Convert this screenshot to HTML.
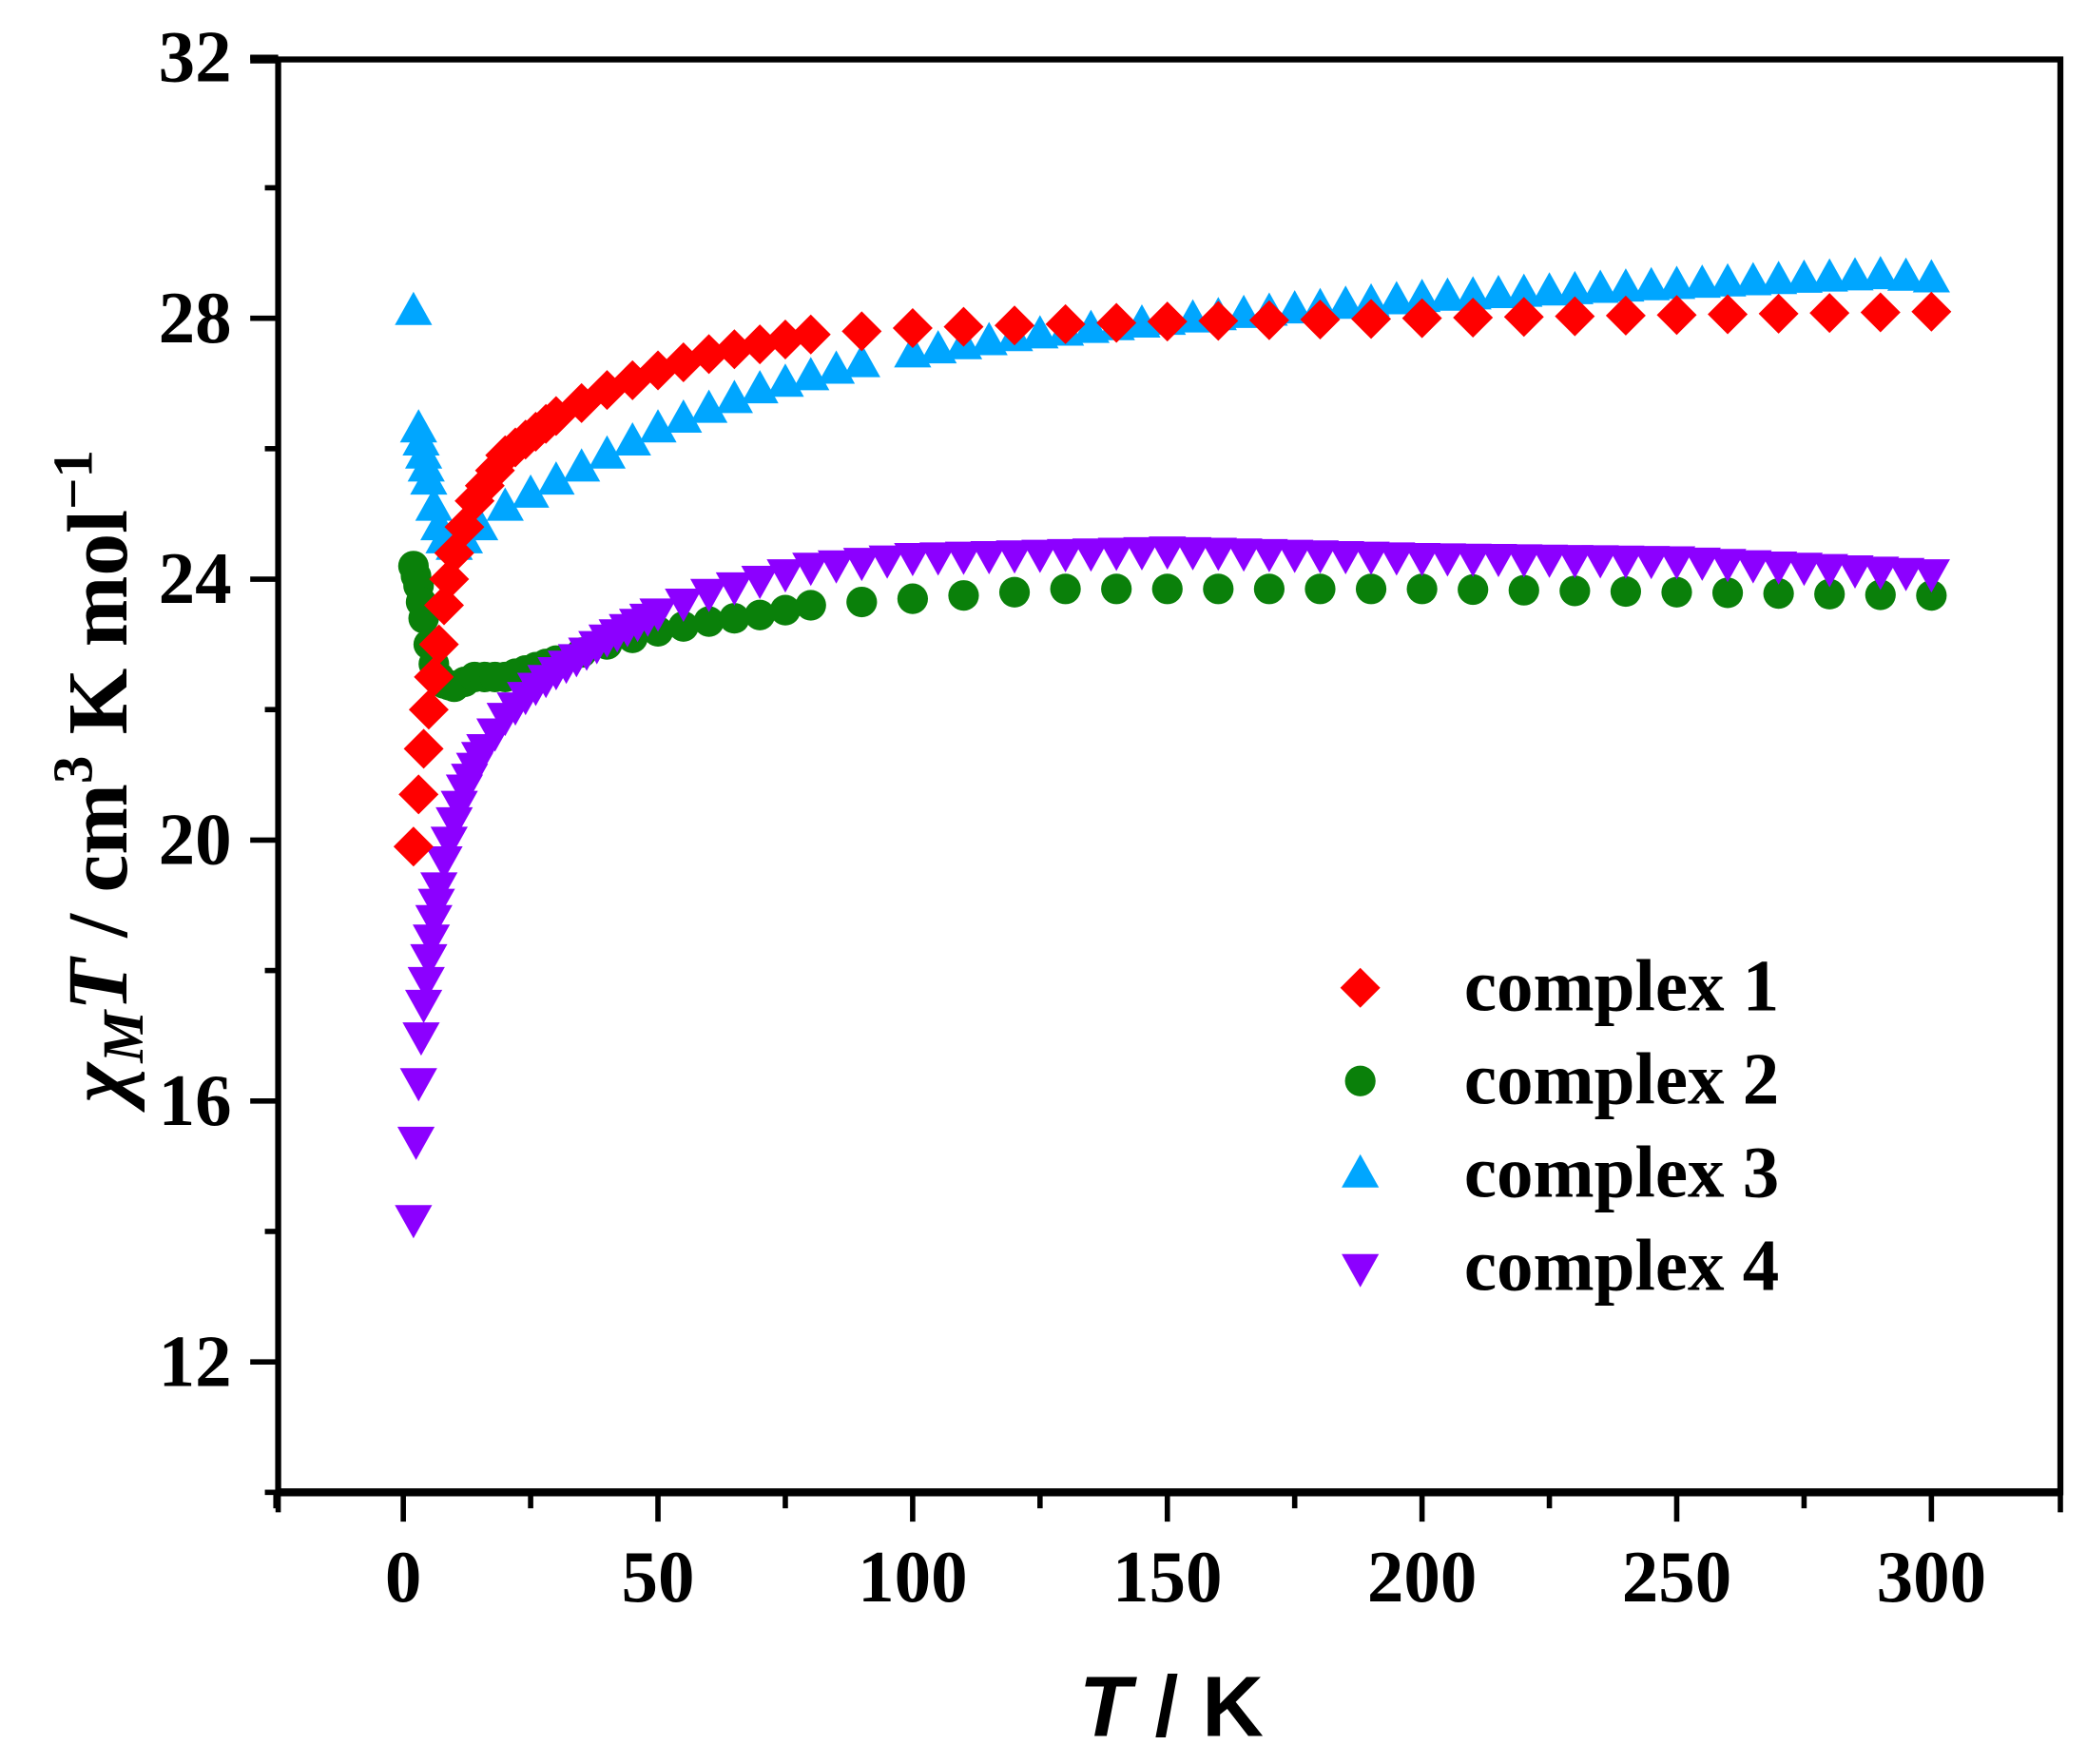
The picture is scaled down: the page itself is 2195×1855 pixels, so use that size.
<!DOCTYPE html>
<html><head><meta charset="utf-8"><style>html,body{margin:0;padding:0;background:#fff}svg{display:block}</style></head>
<body>
<svg id="s" xmlns="http://www.w3.org/2000/svg" width="2195" height="1855" viewBox="0 0 1568 1325">
<rect width="1568" height="1325" fill="#fff"/>
<g id="data"></g>
<g stroke="#000" fill="none">
<rect x="209" y="44.6" width="1339" height="1076.4" stroke-width="4.5"/>
<line x1="188" y1="44.6" x2="209" y2="44.6" stroke-width="6"/>
<line x1="209" y1="1121" x2="1548" y2="1121" stroke-width="6"/>
</g>
<g id="ticks" stroke="#000" stroke-width="4"></g>
<g font-family="Liberation Serif, serif" font-weight="bold" font-size="55" fill="#000" id="lbl"></g>
<g font-family="Liberation Serif, serif" font-weight="bold" font-size="55" fill="#000">
<text x="1100" y="759">complex 1</text>
<text x="1100" y="829">complex 2</text>
<text x="1100" y="899">complex 3</text>
<text x="1100" y="969">complex 4</text>
</g>
<g id="leg"></g>
<text transform="translate(95,583) rotate(-90)" text-anchor="middle" font-family="Liberation Serif, serif" font-weight="bold" font-size="64"><tspan font-style="italic">χ</tspan><tspan font-style="italic" font-size="44" dy="12">M</tspan><tspan font-style="italic" dy="-12">T</tspan> / cm<tspan font-size="42" dy="-26">3</tspan><tspan dy="26"> K mol</tspan><tspan font-size="42" dy="-26">−1</tspan></text>
<text x="880" y="1304" text-anchor="middle" font-family="Liberation Sans, sans-serif" font-weight="bold" font-style="italic" font-size="64">T <tspan font-style="normal">/ K</tspan></text>
</svg>
<script>
var NS="http://www.w3.org/2000/svg";
function X(t){return 303+t*3.827;}
function Y(v){return 1121-(v-10)*49;}
function el(p,n,a){var e=document.createElementNS(NS,n);for(var k in a)e.setAttribute(k,a[k]);p.appendChild(e);return e;}
var tk=document.getElementById('ticks'),lb=document.getElementById('lbl');
for(var v=10;v<=32;v+=2){var maj=(v%4==0);el(tk,'line',{x1:maj?188:199,y1:Y(v),x2:209,y2:Y(v)});
 if(maj){var t=el(lb,'text',{x:174,y:Y(v)+18,'text-anchor':'end'});t.textContent=v;}}
for(var t=-25;t<=320;t+=25){var maj=(t%50==0)&&t>=0;el(tk,'line',{x1:X(t),y1:1121,x2:X(t),y2:maj?1143:1133});
 if(maj){var q=el(lb,'text',{x:X(t),y:1203,'text-anchor':'middle'});q.textContent=t;}}
el(tk,'line',{x1:209,y1:1121,x2:209,y2:1136});el(tk,'line',{x1:1548,y1:1121,x2:1548,y2:1136});
function interp(d,t){for(var i=0;i<d.length-1;i++){if(t<=d[i+1][0]){var a=d[i],b=d[i+1];return a[1]+(b[1]-a[1])*(t-a[0])/(b[0]-a[0]);}}return d[d.length-1][1];}
var c1=[[2,19.9],[3,20.7],[4,21.4],[5,22.0],[6,22.5],[7,23.0],[8,23.6],[9,24.0],[10,24.4],[14,25.2],[20,25.9],[30,26.5],[40,26.9],[50,27.2],[60,27.45],[70,27.6],[80,27.75],[100,27.85],[150,27.95],[300,28.1]];
var c2=[[2,24.2],[3,23.9],[4,23.4],[5,23.0],[6,22.7],[7,22.5],[8,22.4],[10,22.35],[14,22.5],[20,22.5],[30,22.75],[40,23.0],[50,23.2],[60,23.35],[70,23.45],[80,23.6],[90,23.65],[100,23.7],[130,23.85],[200,23.85],[300,23.75]];
var c3=[[2,28.1],[3,26.3],[4,25.9],[5,25.5],[6,25.1],[7,24.8],[8,24.6],[10,24.5],[12,24.6],[15,24.8],[20,25.1],[25,25.3],[30,25.5],[40,25.9],[50,26.3],[60,26.6],[70,26.9],[80,27.1],[90,27.3],[100,27.45],[120,27.7],[150,27.95],[200,28.3],[250,28.5],[290,28.65],[300,28.6]];
var c4=[[2,14.2],[2.5,15.4],[3,16.3],[3.5,17.0],[4,17.5],[5,18.2],[6,18.8],[7,19.3],[8,19.7],[10,20.3],[12,20.8],[15,21.3],[20,21.9],[25,22.3],[30,22.6],[40,23.1],[50,23.5],[60,23.8],[70,24.0],[80,24.2],[100,24.35],[150,24.45],[200,24.35],[250,24.3],[300,24.1]];
var T=[];for(var t=2;t<=10;t+=1)T.push(t);for(var t=12;t<=30;t+=2)T.push(t);for(var t=35;t<=80;t+=5)T.push(t);for(var t=90;t<=300;t+=10)T.push(t);
var T4=[2,2.5,3,3.5,4,4.5,5,5.5,6,6.5,7,8,9,10,11,12,13,14,15,16,18,20,22,24,26,28,30,32,34,36,38,40,42,44,46,48,50];for(var t=55;t<=80;t+=5)T4.push(t);for(var t=85;t<=300;t+=5)T4.push(t);
var T3=[2,3,3.5,4,4.5,5,6,7,8,10,12,15,20,25,30,35,40,45,50,55,60,65,70,75,80,85,90];for(var t=100;t<=300;t+=5)T3.push(t);
var T2=[2,2.5,3,3.5,4,5,6,7,8,9,10,12,14,16,18,20,22,24,26,28,30,35,40,45,50,55,60,65,70,75,80,90];for(var t=100;t<=300;t+=10)T2.push(t);
var g=document.getElementById('data');
function dia(p,x,y,c){el(p,'polygon',{points:(x)+','+(y-15)+' '+(x+15)+','+y+' '+x+','+(y+15)+' '+(x-15)+','+y,fill:c});}
function cir(p,x,y,c){el(p,'circle',{cx:x,cy:y,r:11.5,fill:c});}
function up(p,x,y,c){el(p,'polygon',{points:x+','+(y-15)+' '+(x+14)+','+(y+10)+' '+(x-14)+','+(y+10),fill:c});}
function dn(p,x,y,c){el(p,'polygon',{points:x+','+(y+15)+' '+(x+14)+','+(y-10)+' '+(x-14)+','+(y-10),fill:c});}
T2.forEach(function(t){cir(g,X(t),Y(interp(c2,t)),'#0a800a');});
T4.forEach(function(t){dn(g,X(t),Y(interp(c4,t)),'#8c00ff');});
T3.forEach(function(t){up(g,X(t),Y(interp(c3,t)),'#00a6ff');});
T.forEach(function(t){dia(g,X(t),Y(interp(c1,t)),'#ff0000');});
var lg=document.getElementById('leg');
dia(lg,1022,742,'#ff0000');cir(lg,1022,812,'#0a800a');up(lg,1022,882,'#00a6ff');dn(lg,1022,952,'#8c00ff');
</script>
</body></html>
